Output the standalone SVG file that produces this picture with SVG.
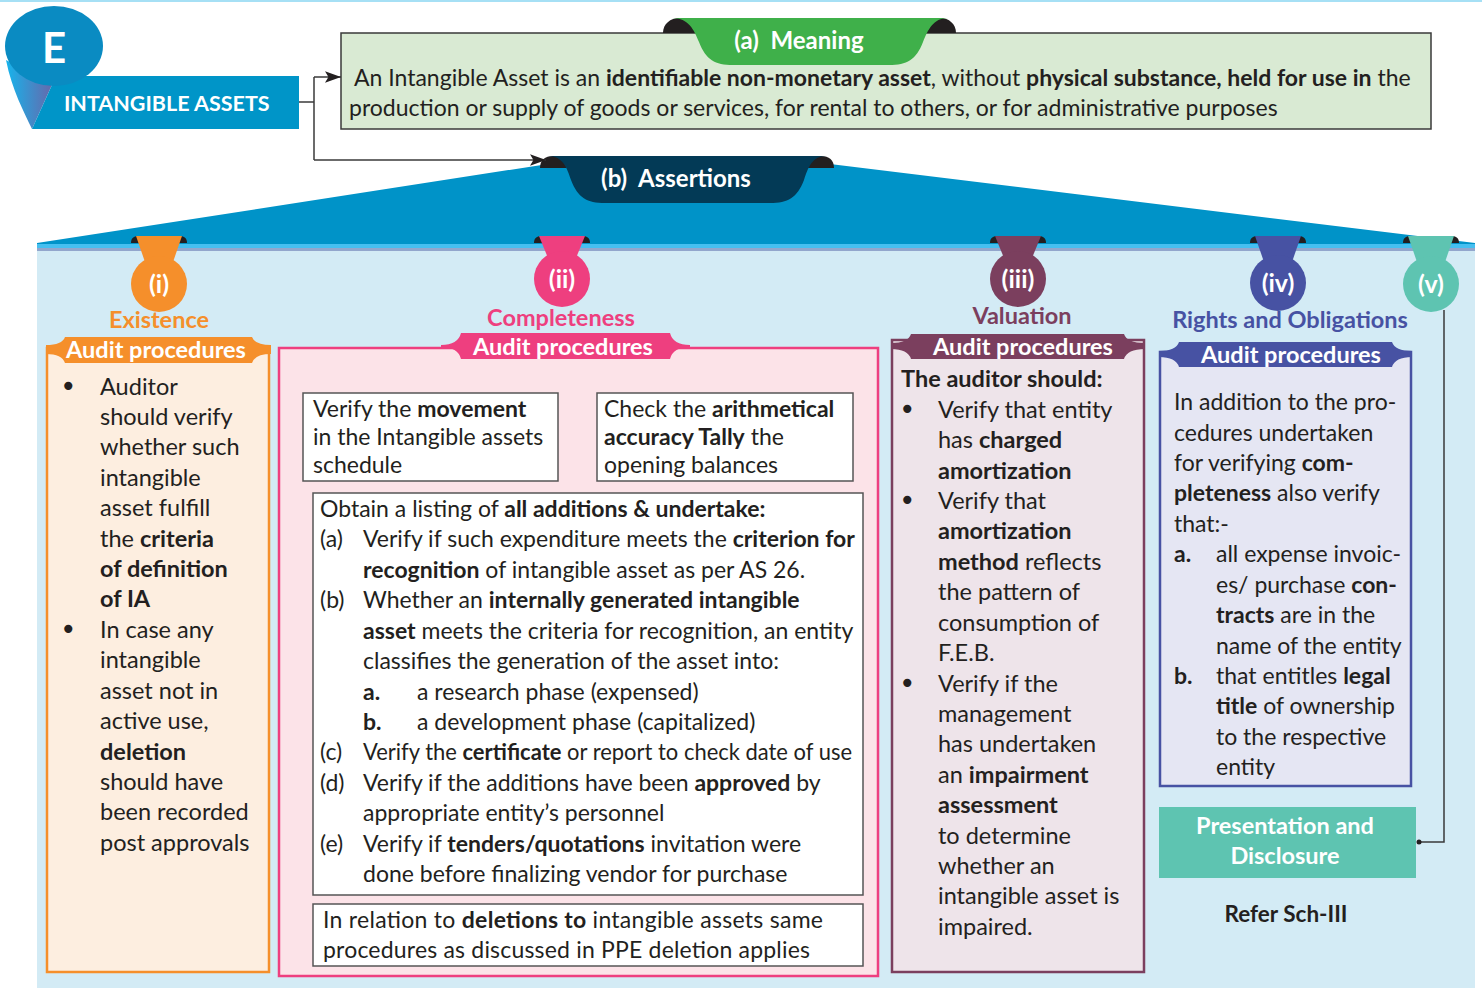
<svg xmlns="http://www.w3.org/2000/svg" width="1482" height="988" viewBox="0 0 1482 988">
<defs>
<style>
.t{font-family:Lato,'Noto Sans',sans-serif;font-size:23px;fill:#231f20}
#existence .t,#valuation .t{font-size:23.5px}
.b{font-weight:bold}
.w{font-family:Lato,'Noto Sans',sans-serif;font-weight:bold;fill:#fff}
.hd{font-family:Lato,'Noto Sans',sans-serif;font-weight:bold;font-size:23.5px;text-anchor:middle}
.ap{font-family:Lato,'Noto Sans',sans-serif;font-weight:bold;font-size:23.5px;fill:#fff;text-anchor:middle}
.cl{font-family:Lato,'Noto Sans',sans-serif;font-weight:bold;font-size:25px;fill:#fff;text-anchor:middle}
.ln{fill:none;stroke:#3a3a3a;stroke-width:1.5}
.ear{fill:#231f20}
.wb{fill:#fff;stroke:#555;stroke-width:1.5}
.bul{font-family:'DejaVu Sans',sans-serif;font-size:28px;fill:#231f20}
</style>
<linearGradient id="tail" x1="0" y1="0" x2="1" y2="0">
<stop offset="0" stop-color="#16b4ec"/>
<stop offset="1" stop-color="#6d62a6"/>
</linearGradient>
<marker id="ah2" viewBox="0 0 14 10" refX="14" refY="5" markerWidth="16" markerHeight="12" markerUnits="userSpaceOnUse" orient="auto"><path d="M0,0 L14,5 L0,10 L3,5 Z" fill="#231f20"/></marker>
</defs>
<rect x="0" y="0" width="1482" height="988" fill="#fff"/>
<rect x="0" y="0" width="1482" height="2" fill="#a6e0f5"/>

<!-- Assertions background -->
<g id="assertions-bg">
<rect x="37" y="244" width="1438" height="744" fill="#d3ebf5"/>
<path d="M37,245 L37,243 L548,164 L830,164 L1475,243 L1475,245 Z" fill="#0093c8"/>
<rect x="37" y="244" width="1438" height="4" fill="#46bff0"/>
<rect x="37" y="248" width="1438" height="3" fill="#92a6cc"/>
</g>

<!-- Title badge -->
<g id="badge">
<path d="M6,60 C12,90 24,112 32,129 L56,76 L40,78 Z" fill="url(#tail)"/>
<path d="M56,76 L299,76 L299,129 L32,129 Z" fill="#0095c8"/>
<ellipse cx="54" cy="46" rx="49" ry="40" fill="#0a8bc2"/>
<text x="54" y="63" class="w" font-size="42" text-anchor="middle">E</text>
<text x="64" y="111" class="w" font-size="21.5">INTANGIBLE ASSETS</text>
</g>

<!-- Meaning -->
<g id="meaning">
<rect x="341" y="33" width="1090" height="96" fill="#d9ead3" stroke="#3a3a3a" stroke-width="1.5"/>
<path class="ear" d="M663,33 C663,24 670,18 680,18 L700,18 L700,33 Z"/>
<path class="ear" d="M956,33 C956,24 949,18 940,18 L920,18 L920,33 Z"/>
<path d="M672,18 L948,18 C933,18 928,30 923,42 C916,60 907,65 889,65 L733,65 C715,65 706,60 699,42 C694,30 689,18 672,18 Z" fill="#3fb04a"/>
<text x="799" y="49" class="w" font-size="24" text-anchor="middle">(a)&#160; Meaning</text>
<text class="t" x="354" y="86">An Intangible Asset is an <tspan class="b">identifiable non-monetary asset</tspan>, without <tspan class="b">physical substance, held for use in</tspan> the</text>
<text class="t" x="349" y="116">production or supply of goods or services, for rental to others, or for administrative purposes</text>
</g>

<!-- Assertions tab -->
<g id="assertions-tab">
<path class="ear" d="M540,168 C540,160 545,156 553,156 L566,156 L566,168 Z"/>
<path class="ear" d="M834,168 C834,160 829,156 821,156 L808,156 L808,168 Z"/>
<path d="M548,156 L826,156 C812,156 808,168 804,180 C797,198 788,203 770,203 L605,203 C587,203 578,198 571,180 C567,168 563,156 548,156 Z" fill="#033a56"/>
<text x="676" y="187" class="w" font-size="24" text-anchor="middle">(b)&#160; Assertions</text>
</g>

<!-- Connectors -->
<g id="connectors">
<path class="ln" d="M299,102 L314,102"/>
<path class="ln" d="M314,77 L314,160"/>
<path class="ln" d="M314,77 L341,77" marker-end="url(#ah2)"/>
<path class="ln" d="M314,160 L546,160" marker-end="url(#ah2)"/>
<path class="ln" d="M565,359 L565,374"/>
<path class="ln" d="M293,374 L733,374"/>
<path class="ln" d="M426,374 L426,391"/>
<path class="ln" d="M733,374 L733,391"/>
<path class="ln" d="M293,374 L293,914 Q293,920 299,920 L312,920"/>
<path class="ln" d="M293,508 L312,508"/>
<circle cx="426" cy="391" r="2.5" fill="#231f20"/>
<circle cx="733" cy="391" r="2.5" fill="#231f20"/>
<circle cx="312" cy="508" r="2.5" fill="#231f20"/>
<circle cx="312" cy="920" r="2.5" fill="#231f20"/>
<path class="ln" d="M1444,310 L1444,842 L1419,842"/>
<circle cx="1419" cy="842" r="2.5" fill="#231f20"/>
</g>

<!-- (i) Existence -->
<g id="existence">
<rect x="47" y="348" width="222" height="624" fill="#fdeee0" stroke="#f58f2b" stroke-width="2.5"/>
<path class="ear" d="M131,243 C131,238 134,236 138,236 L142,236 L142,243 Z"/>
<path class="ear" d="M187,243 C187,238 184,236 180,236 L176,236 L176,243 Z"/>
<path d="M136,236 L182,236 L173,262 L145,262 Z" fill="#f58f2b"/>
<circle cx="159" cy="284" r="28" fill="#f58f2b"/>
<text x="159" y="293" class="cl">(i)</text>
<text x="159" y="328" class="hd" fill="#f58f2b">Existence</text>
<path d="M46,345 Q62,345 65,337 L252,337 Q255,345 271,345 L271,354 Q255,354 252,363 L65,363 Q62,354 46,354 Z" fill="#f58f2b"/>
<text x="156" y="358" class="ap">Audit procedures</text>
<text class="bul" x="60" y="396">•</text>
<text class="t" x="100" y="395">Auditor</text>
<text class="t" x="100" y="425">should verify</text>
<text class="t" x="100" y="455">whether such</text>
<text class="t" x="100" y="486">intangible</text>
<text class="t" x="100" y="516">asset fulfill</text>
<text class="t" x="100" y="547">the <tspan class="b">criteria</tspan></text>
<text class="t b" x="100" y="577">of definition</text>
<text class="t b" x="100" y="607">of IA</text>
<text class="bul" x="60" y="639">•</text>
<text class="t" x="100" y="638">In case any</text>
<text class="t" x="100" y="668">intangible</text>
<text class="t" x="100" y="699">asset not in</text>
<text class="t" x="100" y="729">active use,</text>
<text class="t b" x="100" y="760">deletion</text>
<text class="t" x="100" y="790">should have</text>
<text class="t" x="100" y="820">been recorded</text>
<text class="t" x="100" y="851">post approvals</text>
</g>

<!-- (ii) Completeness -->
<g id="completeness">
<rect x="279" y="348" width="599" height="628" fill="#fce3e8" stroke="#ee3f7f" stroke-width="2.5"/>
<path class="ear" d="M534,243 C534,238 537,236 541,236 L545,236 L545,243 Z"/>
<path class="ear" d="M590,243 C590,238 587,236 583,236 L579,236 L579,243 Z"/>
<path d="M539,236 L585,236 L576,258 L548,258 Z" fill="#ee3f7f"/>
<circle cx="562" cy="279" r="28" fill="#ee3f7f"/>
<text x="562" y="288" class="cl">(ii)</text>
<text x="561" y="326" class="hd" fill="#ee3f7f">Completeness</text>
<path d="M441,345 Q458,345 461,333 L670,333 Q673,345 690,345 L690,347 Q673,347 670,359 L461,359 Q458,347 441,347 Z" fill="#ee3f7f"/>
<text x="563" y="355" class="ap">Audit procedures</text>
<rect class="wb" x="303" y="393" width="255" height="88"/>
<text class="t" x="313" y="417">Verify the <tspan class="b">movement</tspan></text>
<text class="t" x="313" y="445">in the Intangible assets</text>
<text class="t" x="313" y="473">schedule</text>
<rect class="wb" x="597" y="393" width="256" height="88"/>
<text class="t" x="604" y="417">Check the <tspan class="b">arithmetical</tspan></text>
<text class="t" x="604" y="445"><tspan class="b">accuracy Tally</tspan> the</text>
<text class="t" x="604" y="473">opening balances</text>
<rect class="wb" x="313" y="493" width="550" height="402"/>
<text class="t" x="320" y="517">Obtain a listing of <tspan class="b">all additions &amp; undertake:</tspan></text>
<text class="t" x="320" y="547">(a)</text>
<text class="t" x="363" y="547">Verify if such expenditure meets the <tspan class="b">criterion for</tspan></text>
<text class="t" x="363" y="578"><tspan class="b">recognition</tspan> of intangible asset as per AS 26.</text>
<text class="t" x="320" y="608">(b)</text>
<text class="t" x="363" y="608">Whether an <tspan class="b">internally generated intangible</tspan></text>
<text class="t" x="363" y="639"><tspan class="b">asset</tspan> meets the criteria for recognition, an entity</text>
<text class="t" x="363" y="669">classifies the generation of the asset into:</text>
<text class="t b" x="363" y="700">a.</text>
<text class="t" x="417" y="700">a research phase (expensed)</text>
<text class="t b" x="363" y="730">b.</text>
<text class="t" x="417" y="730">a development phase (capitalized)</text>
<text class="t" x="320" y="760">(c)</text>
<text class="t" x="363" y="760" textLength="489" lengthAdjust="spacingAndGlyphs">Verify the <tspan class="b">certificate</tspan> or report to check date of use</text>
<text class="t" x="320" y="791">(d)</text>
<text class="t" x="363" y="791">Verify if the additions have been <tspan class="b">approved</tspan> by</text>
<text class="t" x="363" y="821">appropriate entity’s personnel</text>
<text class="t" x="320" y="852">(e)</text>
<text class="t" x="363" y="852">Verify if <tspan class="b">tenders/quotations</tspan> invitation were</text>
<text class="t" x="363" y="882">done before finalizing vendor for purchase</text>
<rect class="wb" x="313" y="904" width="550" height="62"/>
<text class="t" x="323" y="928" textLength="500">In relation to <tspan class="b">deletions to</tspan> intangible assets same</text>
<text class="t" x="323" y="958" textLength="487">procedures as discussed in PPE deletion applies</text>
</g>

<!-- (iii) Valuation -->
<g id="valuation">
<rect x="892" y="340" width="252" height="632" fill="#eee4ea" stroke="#7b3f5e" stroke-width="2.5"/>
<path class="ear" d="M990,243 C990,238 993,236 997,236 L1001,236 L1001,243 Z"/>
<path class="ear" d="M1046,243 C1046,238 1043,236 1039,236 L1035,236 L1035,243 Z"/>
<path d="M995,236 L1041,236 L1032,258 L1004,258 Z" fill="#7b3f5e"/>
<circle cx="1018" cy="279" r="28" fill="#7b3f5e"/>
<text x="1018" y="288" class="cl">(iii)</text>
<text x="1022" y="324" class="hd" fill="#7b3f5e">Valuation</text>
<path d="M891,343 Q908,343 911,334 L1124,334 Q1127,343 1145,343 L1145,349 Q1127,349 1124,359 L911,359 Q908,349 891,349 Z" fill="#7b3f5e"/>
<text x="1023" y="355" class="ap">Audit procedures</text>
<text class="t b" x="901" y="387">The auditor should:</text>
<text class="bul" x="899" y="419">•</text>
<text class="t" x="938" y="418">Verify that entity</text>
<text class="t" x="938" y="448">has <tspan class="b">charged</tspan></text>
<text class="t b" x="938" y="479">amortization</text>
<text class="bul" x="899" y="510">•</text>
<text class="t" x="938" y="509">Verify that</text>
<text class="t b" x="938" y="539">amortization</text>
<text class="t" x="938" y="570"><tspan class="b">method</tspan> reflects</text>
<text class="t" x="938" y="600">the pattern of</text>
<text class="t" x="938" y="631">consumption of</text>
<text class="t" x="938" y="661">F.E.B.</text>
<text class="bul" x="899" y="693">•</text>
<text class="t" x="938" y="692">Verify if the</text>
<text class="t" x="938" y="722">management</text>
<text class="t" x="938" y="752">has undertaken</text>
<text class="t" x="938" y="783">an <tspan class="b">impairment</tspan></text>
<text class="t b" x="938" y="813">assessment</text>
<text class="t" x="938" y="844">to determine</text>
<text class="t" x="938" y="874">whether an</text>
<text class="t" x="938" y="904">intangible asset is</text>
<text class="t" x="938" y="935">impaired.</text>
</g>

<!-- (iv) Rights and Obligations -->
<g id="rights">
<rect x="1160" y="352" width="251" height="434" fill="#e5e6f3" stroke="#4752a3" stroke-width="2.5"/>
<path class="ear" d="M1250,243 C1250,238 1253,236 1257,236 L1261,236 L1261,243 Z"/>
<path class="ear" d="M1306,243 C1306,238 1303,236 1299,236 L1295,236 L1295,243 Z"/>
<path d="M1255,236 L1301,236 L1292,262 L1264,262 Z" fill="#4752a3"/>
<circle cx="1278" cy="283" r="28" fill="#4752a3"/>
<text x="1278" y="292" class="cl">(iv)</text>
<text x="1290" y="328" class="hd" fill="#4752a3">Rights and Obligations</text>
<path d="M1159,351 Q1176,351 1179,342 L1392,342 Q1395,351 1412,351 L1412,357 Q1395,357 1392,367 L1179,367 Q1176,357 1159,357 Z" fill="#4752a3"/>
<text x="1291" y="363" class="ap">Audit procedures</text>
<text class="t" x="1174" y="410">In addition to the pro-</text>
<text class="t" x="1174" y="441">cedures undertaken</text>
<text class="t" x="1174" y="471">for verifying <tspan class="b">com-</tspan></text>
<text class="t" x="1174" y="501"><tspan class="b">pleteness</tspan> also verify</text>
<text class="t" x="1174" y="532">that:-</text>
<text class="t b" x="1174" y="562">a.</text>
<text class="t" x="1216" y="562">all expense invoic-</text>
<text class="t" x="1216" y="593">es/ purchase <tspan class="b">con-</tspan></text>
<text class="t" x="1216" y="623"><tspan class="b">tracts</tspan> are in the</text>
<text class="t" x="1216" y="654">name of the entity</text>
<text class="t b" x="1174" y="684">b.</text>
<text class="t" x="1216" y="684">that entitles <tspan class="b">legal</tspan></text>
<text class="t" x="1216" y="714"><tspan class="b">title</tspan> of ownership</text>
<text class="t" x="1216" y="745">to the respective</text>
<text class="t" x="1216" y="775">entity</text>
</g>

<!-- (v) Presentation and Disclosure -->
<g id="presentation">
<path class="ear" d="M1403,243 C1403,238 1406,236 1410,236 L1414,236 L1414,243 Z"/>
<path class="ear" d="M1459,243 C1459,238 1456,236 1452,236 L1448,236 L1448,243 Z"/>
<path d="M1408,236 L1454,236 L1445,262 L1417,262 Z" fill="#5ec4b1"/>
<circle cx="1431" cy="284" r="28" fill="#5ec4b1"/>
<text x="1431" y="293" class="cl">(v)</text>
<rect x="1159" y="807" width="257" height="71" fill="#5ec4b1"/>
<text x="1285" y="834" class="w" font-size="23.5" text-anchor="middle">Presentation and</text>
<text x="1285" y="864" class="w" font-size="23.5" text-anchor="middle">Disclosure</text>
<text x="1286" y="922" class="t b" text-anchor="middle" style="font-size:22.5px">Refer Sch-III</text>
</g>
</svg>
